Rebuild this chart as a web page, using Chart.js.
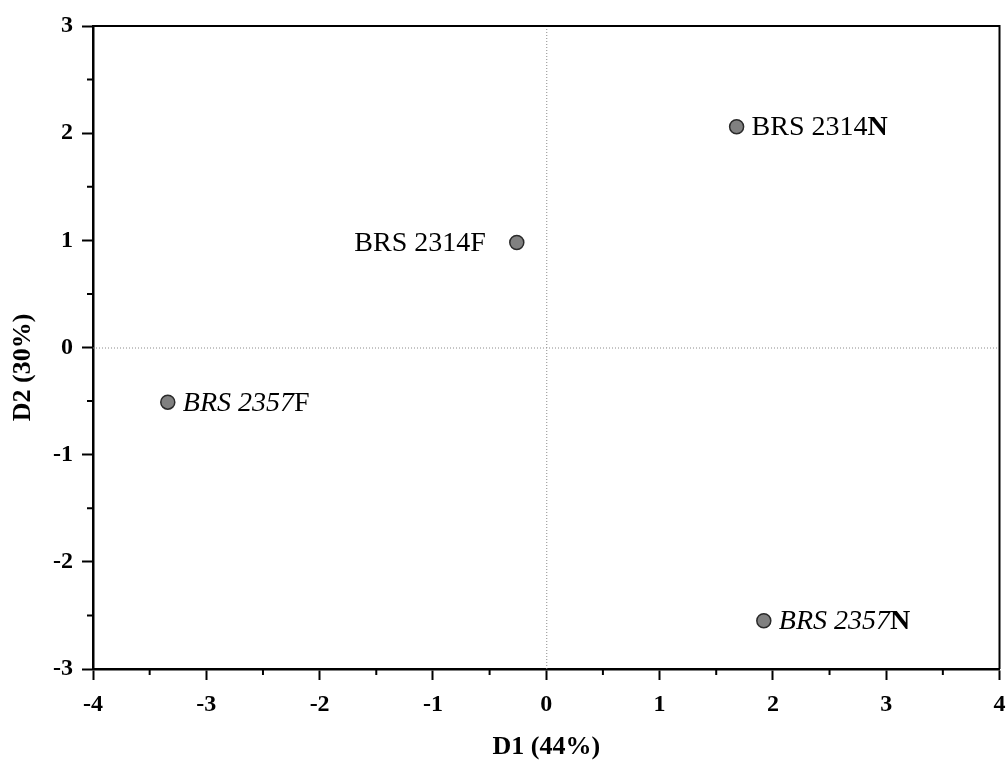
<!DOCTYPE html>
<html>
<head>
<meta charset="utf-8">
<title>D1 / D2</title>
<script src="https://cdn.jsdelivr.net/npm/chart.js@4"></script>
<style>
    html, body { margin: 0; padding: 0; background: #fff; }
    #wrap { width: 1008px; height: 760px; }
</style>
</head>
<body>
<div id="wrap"><canvas id="scatter"></canvas></div>
<script>
// cultivar + treatment scores on the first two discriminant functions
const cultivars = ["BRS 2314", "BRS 2314", "BRS 2357", "BRS 2357"];
const treatments = ["N", "F", "F", "N"];
const d1 = [1.68, -0.26, -3.34, 1.92];
const d2 = [2.06, 0.98, -0.51, -2.55];
const xTicks = [-4, -3, -2, -1, 0, 1, 2, 3, 4];
const yTicks = [-3, -2, -1, 0, 1, 2, 3];
const xTitle = "D1 (44%)";
const yTitle = "D2 (30%)";

const serif = "'Liberation Serif', 'Times New Roman', serif";

const points = d1.map((x, i) => ({ x: x, y: d2[i] }));

// frame, minor ticks and dotted zero lines
const framePlugin = {
    id: "frame",
    beforeDatasetsDraw(chart) {
        const { ctx, chartArea: a, scales } = chart;
        const x0 = scales.x.getPixelForValue(0);
        const y0 = scales.y.getPixelForValue(0);
        ctx.save();
        ctx.strokeStyle = "#8a8a8a";
        ctx.lineWidth = 1;
        ctx.setLineDash([1, 2]);
        ctx.beginPath();
        ctx.moveTo(x0 + 0.5, a.top);
        ctx.lineTo(x0 + 0.5, a.bottom);
        ctx.moveTo(a.left, y0 + 0.5);
        ctx.lineTo(a.right, y0 + 0.5);
        ctx.stroke();
        ctx.setLineDash([]);

        ctx.strokeStyle = "#000";
        ctx.lineWidth = 2;
        ctx.beginPath();
        ctx.moveTo(a.left, a.top);
        ctx.lineTo(a.right, a.top);
        ctx.lineTo(a.right, a.bottom);
        ctx.stroke();

        // half-unit minor ticks
        ctx.beginPath();
        for (let i = 0; i < xTicks.length - 1; i++) {
            const px = scales.x.getPixelForValue(xTicks[i] + 0.5);
            ctx.moveTo(px, a.bottom);
            ctx.lineTo(px, a.bottom + 6);
        }
        for (let i = 0; i < yTicks.length - 1; i++) {
            const py = scales.y.getPixelForValue(yTicks[i] + 0.5);
            ctx.moveTo(a.left, py);
            ctx.lineTo(a.left - 6, py);
        }
        ctx.stroke();

        // vertical axis title, sits a little below the middle
        ctx.font = "bold 26px " + serif;
        ctx.fillStyle = "#000";
        ctx.textAlign = "center";
        ctx.textBaseline = "middle";
        ctx.translate(23, (a.top + a.bottom) / 2 + 20);
        ctx.rotate(-Math.PI / 2);
        ctx.fillText(yTitle, 0, 0);
        ctx.restore();
    }
};

// point labels: 2357 in italics, N in bold
const labelPlugin = {
    id: "pointLabels",
    afterDatasetsDraw(chart, args, opts) {
        const { ctx } = chart;
        const meta = chart.getDatasetMeta(0);
        ctx.save();
        ctx.fillStyle = "#000";
        ctx.textBaseline = "middle";
        ctx.textAlign = "left";
        meta.data.forEach((el, i) => {
            const parts = [
                { text: cultivars[i], style: cultivars[i] === "BRS 2357" ? "italic " : "" },
                { text: treatments[i], style: treatments[i] === "N" ? "bold " : "" }
            ];
            let total = 0;
            parts.forEach(p => {
                ctx.font = p.style + "28px " + serif;
                p.w = ctx.measureText(p.text).width;
                total += p.w;
            });
            let x = opts.side[i] === "left" ? el.x - opts.gapLeft - total : el.x + opts.gapRight;
            parts.forEach(p => {
                ctx.font = p.style + "28px " + serif;
                ctx.fillText(p.text, x, el.y + 1);
                x += p.w;
            });
        });
        ctx.restore();
    }
};

new Chart(document.getElementById("scatter"), {
    type: "scatter",
    data: {
        datasets: [{
            data: points,
            pointRadius: 7,
            pointHoverRadius: 7,
            backgroundColor: "#808080",
            borderColor: "#2a2a2a",
            borderWidth: 1.5
        }]
    },
    options: {
        responsive: true,
        maintainAspectRatio: false,
        animation: false,
        layout: { padding: { top: 26, right: 0, left: 0, bottom: 0 } },
        plugins: {
            legend: { display: false },
            tooltip: { enabled: false },
            pointLabels: { side: ["right", "left", "right", "right"], gapRight: 15, gapLeft: 31 }
        },
        scales: {
            x: {
                type: "linear",
                min: -4,
                max: 4,
                afterBuildTicks: s => { s.ticks = xTicks.map(v => ({ value: v })); },
                afterFit: s => {
                    s.height = 91;
                    s.paddingLeft = 0;
                    s.paddingRight = 8;
                },
                border: { color: "#000", width: 2.5 },
                grid: { drawOnChartArea: false, drawTicks: true, tickLength: 11, tickWidth: 2, tickColor: "#000" },
                ticks: { color: "#000", padding: 10, font: { family: serif, size: 24, weight: "bold" } },
                title: {
                    display: true,
                    text: xTitle,
                    color: "#000",
                    padding: 0,
                    font: { family: serif, size: 26, weight: "bold", lineHeight: 1.0 }
                }
            },
            y: {
                type: "linear",
                min: -3,
                max: 3,
                afterBuildTicks: s => { s.ticks = yTicks.map(v => ({ value: v })); },
                afterFit: s => { s.width = 93; },
                border: { color: "#000", width: 2.5 },
                grid: { drawOnChartArea: false, drawTicks: true, tickLength: 11, tickWidth: 2, tickColor: "#000" },
                ticks: { color: "#000", padding: 9, font: { family: serif, size: 24, weight: "bold" } },
                title: { display: false }
            }
        }
    },
    plugins: [framePlugin, labelPlugin]
});
</script>
</body>
</html>
